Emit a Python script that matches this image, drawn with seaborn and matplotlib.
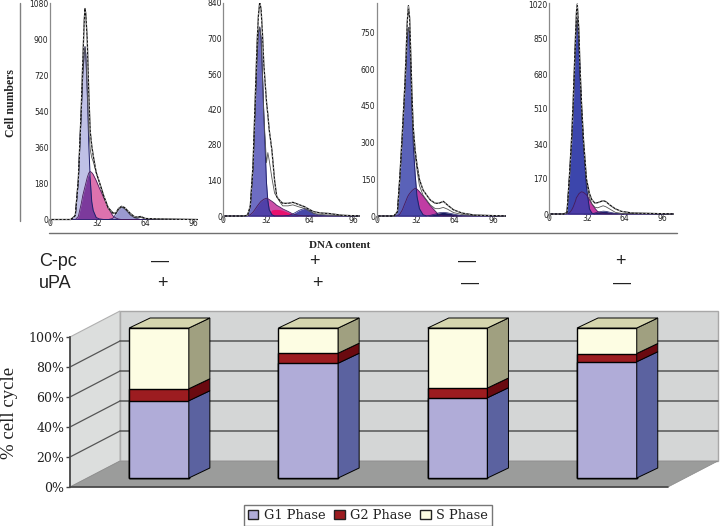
"""Cell cycle figure: four DNA histograms above a stacked 3D-look bar chart."""
import matplotlib
matplotlib.use("Agg")
import matplotlib.pyplot as plt
import numpy as np
import pandas as pd
import seaborn as sns
from matplotlib.patches import Patch

W, H = 720, 526

# Histogram 1 (C-pc -, uPA +)
h1_x = [0, 14, 17, 19, 21, 22, 23, 23.5, 24, 25, 26, 27, 28, 29, 31, 33, 36, 39, 42, 44, 46, 48, 50, 52, 54, 57, 61, 64, 72, 99]
h1_total = [0, 0, 20, 200, 560, 790, 1000, 1055, 1030, 900, 640, 440, 370, 320, 235, 190, 120, 60, 35, 30, 55, 66, 60, 45, 30, 12, 15, 5, 3, 0]
h1_inner = [0, 0, 20, 190, 540, 720, 830, 864, 830, 640, 450, 350, 310, 290, 235, 190, 115, 55, 30, 28, 50, 62, 55, 40, 22, 8, 10, 3, 1, 0]
h1_g1 = [0, 0, 20, 190, 540, 720, 830, 864, 830, 640, 380, 200, 90, 45, 10, 3, 0, 0, 0, 0, 0, 0, 0, 0, 0, 0, 0, 0, 0, 0]
h1_s = [0, 0, 0, 15, 80, 120, 150, 165, 180, 210, 232, 240, 235, 225, 195, 160, 110, 60, 20, 8, 2, 0, 0, 0, 0, 0, 0, 0, 0, 0]
h1_g2 = [0, 0, 0, 0, 0, 0, 0, 0, 0, 0, 0, 0, 0, 0, 0, 0, 0, 0, 5, 25, 50, 62, 55, 40, 22, 8, 0, 0, 0, 0]

# Histogram 2 (C-pc +, uPA +)
h2_x = [0, 15, 18, 20, 22, 24, 25, 26, 27, 28, 29, 30, 32, 33, 34, 36, 38, 39.6, 42, 44, 48, 51.5, 56, 60, 64, 67, 72, 78, 88, 101]
h2_total = [0, 0, 3, 40, 200, 520, 680, 790, 845, 815, 720, 600, 450, 400, 340, 260, 140, 76, 60, 50, 50, 54, 45, 37, 25, 17, 12, 10, 3, 0]
h2_inner = [0, 0, 3, 35, 180, 470, 620, 720, 745, 700, 560, 400, 210, 250, 220, 150, 90, 76, 55, 40, 40, 44, 36, 30, 18, 10, 6, 4, 1, 0]
h2_g1 = [0, 0, 3, 35, 180, 470, 620, 720, 745, 700, 560, 400, 130, 60, 25, 5, 0, 0, 0, 0, 0, 0, 0, 0, 0, 0, 0, 0, 0, 0]
h2_s = [0, 0, 0, 5, 15, 30, 38, 45, 52, 58, 62, 66, 70, 68, 65, 58, 50, 42, 35, 28, 18, 8, 2, 0, 0, 0, 0, 0, 0, 0]
h2_hot = [0, 0, 0, 0, 0, 0, 0, 0, 0, 0, 0, 0, 0, 0, 12, 24, 26, 26, 25, 22, 14, 6, 0, 0, 0, 0, 0, 0, 0, 0]
h2_g2 = [0, 0, 0, 0, 0, 0, 0, 0, 0, 0, 0, 0, 0, 0, 0, 0, 0, 0, 0, 0, 2, 8, 22, 30, 22, 10, 2, 0, 0, 0]

# Histogram 3 (C-pc -, uPA -)
h3_x = [0, 14, 17, 19, 21, 23, 24, 25, 26, 27, 28, 29, 30, 31.5, 33, 35, 38, 41, 44, 48, 51, 54.6, 58, 63, 70, 80, 106]
h3_total = [0, 0, 18, 165, 340, 530, 650, 790, 860, 810, 650, 480, 360, 270, 210, 150, 106, 85, 65, 52, 52, 60, 45, 25, 12, 4, 0]
h3_inner = [0, 0, 15, 150, 320, 500, 600, 720, 770, 750, 590, 430, 320, 250, 190, 125, 85, 65, 45, 30, 30, 35, 28, 14, 6, 2, 0]
h3_g1 = [0, 0, 15, 150, 320, 500, 600, 720, 770, 750, 590, 430, 290, 170, 80, 30, 5, 0, 0, 0, 0, 0, 0, 0, 0, 0, 0]
h3_s = [0, 0, 0, 8, 25, 50, 62, 75, 85, 92, 98, 104, 108, 113, 110, 100, 82, 62, 42, 20, 5, 0, 0, 0, 0, 0, 0]
h3_g2 = [0, 0, 0, 0, 0, 0, 0, 0, 0, 0, 0, 0, 0, 0, 0, 0, 0, 0, 3, 8, 13, 15, 13, 8, 1, 0, 0]

# Histogram 4 (C-pc +, uPA -)
h4_x = [0, 12, 15, 17, 19, 20.3, 22.3, 23, 23.7, 25, 26, 27.3, 29, 31.5, 34, 36, 38.6, 41, 45.6, 48, 51, 56, 61, 70, 106]
h4_total = [0, 0, 8, 180, 380, 560, 880, 980, 1020, 900, 720, 540, 360, 170, 100, 70, 53, 55, 65, 60, 45, 25, 13, 5, 0]
h4_inner = [0, 0, 5, 170, 350, 510, 850, 920, 950, 850, 680, 510, 340, 160, 80, 50, 33, 30, 40, 35, 25, 8, 3, 2, 0]
h4_g1 = [0, 0, 5, 170, 350, 510, 850, 920, 950, 850, 680, 510, 330, 130, 25, 5, 0, 0, 0, 0, 0, 0, 0, 0, 0]
h4_s = [0, 0, 0, 5, 20, 35, 65, 80, 85, 98, 103, 108, 105, 93, 70, 50, 28, 12, 2, 0, 0, 0, 0, 0, 0]
h4_g2 = [0, 0, 0, 0, 0, 0, 0, 0, 0, 0, 0, 0, 0, 0, 0, 0, 5, 9, 14, 13, 9, 3, 0, 0, 0]

h_xticks = [0, 32, 64, 96]
h1_yticks = [0, 180, 360, 540, 720, 900, 1080]
h2_yticks = [0, 140, 280, 420, 560, 700, 840]
h3_yticks = [0, 150, 300, 450, 600, 750]
h4_yticks = [0, 170, 340, 510, 680, 850, 1020]

# Bar chart
treatments = ["A", "B", "C", "D"]
g1_phase = [51.5, 76.5, 53.5, 77.5]
g2_phase = [8.0, 6.7, 6.5, 5.5]
s_phase = [40.5, 16.8, 40.0, 17.0]
pct_ticks = [0, 20, 40, 60, 80, 100]

cpc_row = ["—", "+", "—", "+"]
upa_row = ["+", "+", "—", "—"]

sns.set_theme(style="white")
plt.rcParams["font.family"] = ["DejaVu Sans"]

fig = plt.figure(figsize=(W / 100, H / 100), dpi=100, facecolor="white")


def px_axes(left, right, top, bottom, **kw):
    """Axes placed by pixel edges (y counted from the top of the image)."""
    return fig.add_axes([left / W, 1 - bottom / H, (right - left) / W, (bottom - top) / H], **kw)


# page axes for rules and free text, in image pixels
page = px_axes(0, W, 0, H)
page.set_xlim(0, W)
page.set_ylim(H, 0)
page.axis("off")
page.plot([20, 20], [3, 221], color="#808080", lw=1)
page.plot([49, 677], [233, 233], color="#707070", lw=1)
page.text(11, 103, "Cell numbers", rotation=90, family="Liberation Serif", weight="bold",
          fontsize=8.5, ha="center", va="center", color="#222222")
page.text(340, 246, "DNA content", family="Liberation Serif", weight="bold",
          fontsize=8, ha="center", va="center", color="#222222")
page.text(39, 261, "C-pc", family="Liberation Sans", fontsize=13, ha="left", va="center", color="#222222")
page.text(39, 283, "uPA", family="Liberation Sans", fontsize=13, ha="left", va="center", color="#222222")
for label, x_px in zip(cpc_row, [160, 314, 467, 620]):
    page.text(x_px, 261, label, family="Liberation Sans", fontsize=13, ha="center", va="center", color="#222222")
for label, x_px in zip(upa_row, [162, 317, 470, 622]):
    page.text(x_px, 283, label, family="Liberation Sans", fontsize=13, ha="center", va="center", color="#222222")
page.text(10, 413, "% cell cycle", rotation=90, family="Liberation Serif", fontsize=13.5,
          ha="center", va="center", color="#222222")


def draw_hist(x0_px, x_scale, y0_px, y_scale, x_end, series, yticks, g1_col, s_col, mix_col, g2_col, hot=None):
    x, total, inner, g1, s, g2 = [np.array(v, dtype=float) for v in series]
    top_px, bottom_px = 3, y0_px + 4
    ax = px_axes(x0_px, x0_px + x_end * x_scale, top_px, bottom_px)
    ax.patch.set_alpha(0)
    ax.fill_between(x, 0, s, color=s_col, lw=0)
    if hot is not None:
        ax.fill_between(x, 0, hot, color="#e8106e", lw=0)
    ax.fill_between(x, 0, g1, color=g1_col, lw=0)
    ax.fill_between(x, 0, np.minimum(g1, s), color=mix_col, lw=0)
    ax.fill_between(x, 0, g2, color=g2_col, lw=0)
    sns.lineplot(x=x, y=g1, ax=ax, color="#20206a", lw=0.7, estimator=None, sort=False)
    sns.lineplot(x=x, y=s, ax=ax, color="#4a1a5a", lw=0.6, estimator=None, sort=False)
    sns.lineplot(x=x, y=g2, ax=ax, color="#20206a", lw=0.5, estimator=None, sort=False)
    sns.lineplot(x=x, y=inner, ax=ax, color="#555555", lw=0.6, estimator=None, sort=False)
    sns.lineplot(x=x, y=total, ax=ax, color="#111111", lw=0.9, estimator=None, sort=False)
    ax.plot(x, total, color="white", lw=0.4, ls=(0, (3, 4)))
    ax.set_xlim(0, x_end)
    ax.set_ylim(-(bottom_px - y0_px) / y_scale, (y0_px - top_px) / y_scale)
    ax.set_xticks(h_xticks)
    ax.set_yticks(yticks)
    ax.tick_params(axis="both", length=0, labelsize=5.5, labelcolor="#222222")
    ax.tick_params(axis="x", pad=-3)
    ax.tick_params(axis="y", pad=1)
    sns.despine(ax=ax, bottom=True)
    ax.spines["left"].set_color("#8a8a8a")
    ax.spines["left"].set_linewidth(0.9)
    ax.set_xlabel("")
    ax.set_ylabel("")


draw_hist(50, 1.49, 219.5, 216 / 1080, 99,
          (h1_x, h1_total, h1_inner, h1_g1, h1_s, h1_g2), h1_yticks,
          "#bfc0e6", "#dd72ae", "#7c3a9c", "#9a9ad0")
draw_hist(223.3, 1.35, 216, 213 / 840, 101,
          (h2_x, h2_total, h2_inner, h2_g1, h2_s, h2_g2), h2_yticks,
          "#6d6dc2", "#cc4fa8", "#5040a8", "#4848a8", hot=h2_hot)
draw_hist(376.7, 1.22, 216, 36.7 / 150, 106,
          (h3_x, h3_total, h3_inner, h3_g1, h3_s, h3_g2), h3_yticks,
          "#5a62b8", "#c03ca4", "#4a48aa", "#1a1a60")
draw_hist(549.3, 1.18, 214, 210 / 1020, 106,
          (h4_x, h4_total, h4_inner, h4_g1, h4_s, h4_g2), h4_yticks,
          "#3c46ac", "#c43ca4", "#4c3ca8", "#20206e")

# ---- 3D look bar chart ----
CAT_PX = 149.3
CAT0_PX = 159
PCT_PX = 1.5
AX_L, AX_R, AX_T, AX_B = 60, 720, 305, 492
xlim = ((AX_L - CAT0_PX) / CAT_PX, (AX_R - CAT0_PX) / CAT_PX)
ylim = ((487 - AX_B) / PCT_PX, (487 - AX_T) / PCT_PX)

floor_l, floor_r = (70 - CAT0_PX) / CAT_PX, (668 - CAT0_PX) / CAT_PX
wall_dx, wall_dy = 50 / CAT_PX, 26 / PCT_PX

wall = px_axes(AX_L, AX_R, AX_T, AX_B)
wall.patch.set_alpha(0)
wall.fill([floor_l + wall_dx, floor_r + wall_dx, floor_r + wall_dx, floor_l + wall_dx],
          [wall_dy, wall_dy, 100 + wall_dy, 100 + wall_dy], facecolor="#d4d6d6", edgecolor="#a8a8a8", lw=1)
wall.fill([floor_l, floor_l + wall_dx, floor_l + wall_dx, floor_l],
          [0, wall_dy, 100 + wall_dy, 100], facecolor="#dcdedd", edgecolor="#b0b0b0", lw=0.8)
wall.fill([floor_l, floor_r, floor_r + wall_dx, floor_l + wall_dx],
          [0, 0, wall_dy, wall_dy], facecolor="#9b9c9b", edgecolor="#8a8a8a", lw=0.5)
for pct in pct_ticks[1:-1]:
    wall.plot([floor_l + wall_dx, floor_r + wall_dx], [pct + wall_dy] * 2, color="#555555", lw=1.1)
    wall.plot([floor_l, floor_l + wall_dx], [pct, pct + wall_dy], color="#555555", lw=0.9)
wall.plot([floor_l, floor_r], [0, 0], color="#444444", lw=1.2)
wall.set_xlim(*xlim)
wall.set_ylim(*ylim)
for name in ["top", "right", "bottom"]:
    wall.spines[name].set_visible(False)
# set_position resets the ticks, so the labels come after it
wall.spines["left"].set_position(("data", floor_l))
wall.spines["left"].set_bounds(0, 100)
wall.spines["left"].set_color("#444444")
wall.set_xticks([])
wall.set_yticks(pct_ticks)
wall.set_yticklabels([f"{p}%" for p in pct_ticks], family="DejaVu Serif", fontsize=9, color="#222222")
wall.tick_params(axis="y", length=3, width=1, color="#444444", pad=1, left=True)

bars = px_axes(AX_L, AX_R, AX_T - 9, AX_B - 9)
bars.patch.set_alpha(0)
bar_df = pd.DataFrame({"treatment": treatments, "g1": g1_phase, "g2": g2_phase, "s": s_phase})
bar_df["g1_top"] = bar_df["g1"]
bar_df["g2_top"] = bar_df["g1"] + bar_df["g2"]
bar_df["s_top"] = bar_df["g2_top"] + bar_df["s"]

FRONT = {"s_top": "#fdfde3", "g2_top": "#9c1c20", "g1_top": "#b0acd8"}
SIDE = {"s_top": "#a0a080", "g2_top": "#6a0a10", "g1_top": "#5b62a0"}
BAR_W = 0.4
for col in ["s_top", "g2_top", "g1_top"]:
    sns.barplot(data=bar_df, x="treatment", y=col, order=treatments, color=FRONT[col], saturation=1,
                width=BAR_W, edgecolor="black", linewidth=1, ax=bars)

depth_x, depth_y = 21 / CAT_PX, 10 / PCT_PX
for i, row in bar_df.iterrows():
    right = i + BAR_W / 2
    left = i - BAR_W / 2
    edges = [("g1_top", 0, row["g1_top"]), ("g2_top", row["g1_top"], row["g2_top"]), ("s_top", row["g2_top"], row["s_top"])]
    for col, low, high in edges:
        bars.fill([right, right + depth_x, right + depth_x, right],
                  [low, low + depth_y, high + depth_y, high],
                  facecolor=SIDE[col], edgecolor="black", lw=0.7, zorder=3)
    top = row["s_top"]
    bars.fill([left, right, right + depth_x, left + depth_x],
              [top, top, top + depth_y, top + depth_y],
              facecolor="#d6d6ae", edgecolor="black", lw=0.7, zorder=3)
bars.set_xlim(*xlim)
bars.set_ylim(*ylim)
bars.axis("off")

handles = [Patch(facecolor=FRONT["g1_top"], edgecolor="#222222", label="G1 Phase"),
           Patch(facecolor=FRONT["g2_top"], edgecolor="#222222", label="G2 Phase"),
           Patch(facecolor=FRONT["s_top"], edgecolor="#222222", label="S Phase")]
page.set_zorder(5)
page.legend(handles=handles, loc="center", bbox_to_anchor=(368, 515.5), bbox_transform=page.transData,
            ncol=3, frameon=True, fancybox=False, edgecolor="#777777", framealpha=1,
            prop={"family": "DejaVu Serif", "size": 9.3}, handlelength=0.8, handleheight=0.8,
            handletextpad=0.4, columnspacing=0.7, borderpad=0.3, labelcolor="#222222")

fig.savefig("out.png", dpi=100)
